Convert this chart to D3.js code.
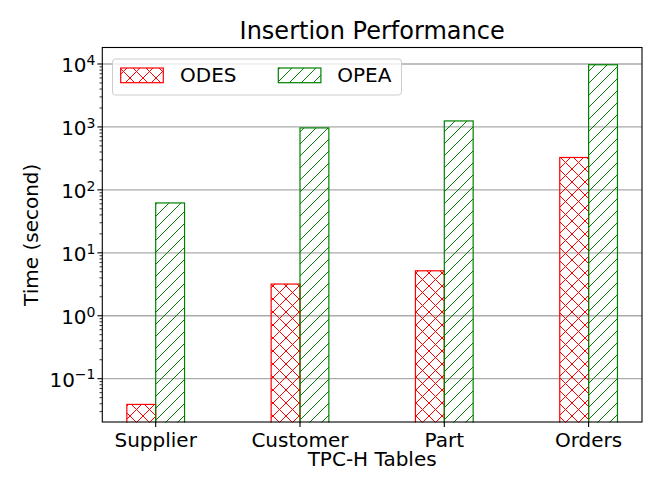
<!DOCTYPE html>
<html>
<head>
<meta charset="utf-8">
<script src="https://cdn.jsdelivr.net/npm/d3@7"></script>
<style>
  html, body { margin: 0; padding: 0; background: #fff; }
  svg { display: block; font-family: "DejaVu Sans", sans-serif; }
</style>
</head>
<body>
<svg id="chart" width="664" height="498"></svg>
<script>
// ---- data ----
const categories = ["Supplier", "Customer", "Part", "Orders"];
const seriesNames = ["ODES", "OPEA"];
const odesValues = [0.039, 3.19, 5.18, 327];
const opeaValues = [62, 965, 1245, 9730];
const yTickExponents = [-1, 0, 1, 2, 3, 4];
const titleText = "Insertion Performance";
const xLabelText = "TPC-H Tables";
const yLabelText = "Time (second)";

// ---- layout ----
const W = 664, H = 498;
const plot = { left: 102.3, right: 642, top: 47.5, bottom: 422 };
const barW = 0.2;
const svg = d3.select("#chart");

const x = d3.scaleLinear().domain([-0.37, categories.length - 1 + 0.37]).range([plot.left, plot.right]);
const y = d3.scaleLog().domain([Math.pow(10, -1.688), Math.pow(10, 4.262)]).range([plot.bottom, plot.top]);

// ---- hatch patterns ----
const defs = svg.append("defs");
function addPattern(id, color, cross, hs) {
  const p = defs.append("pattern").attr("id", id)
    .attr("patternUnits", "userSpaceOnUse")
    .attr("width", hs).attr("height", hs);
  let d = `M0,${hs} L${hs},0 M${-hs/2},${hs/2} L${hs/2},${-hs/2} M${hs/2},${hs*1.5} L${hs*1.5},${hs/2}`;
  if (cross) d += ` M0,0 L${hs},${hs} M${-hs/2},${hs/2} L${hs/2},${hs*1.5} M${hs/2},${-hs/2} L${hs*1.5},${hs/2}`;
  p.append("path").attr("d", d).attr("stroke", color).attr("stroke-width", 1).attr("fill", "none");
}
addPattern("hatchX", "red", true, 13);
addPattern("hatchS", "green", false, 12);

// ---- gridlines ----
svg.append("g").selectAll("line").data(yTickExponents).join("line")
  .attr("x1", plot.left).attr("x2", plot.right)
  .attr("y1", d => y(Math.pow(10, d))).attr("y2", d => y(Math.pow(10, d)))
  .attr("stroke", "#aaaaaa").attr("stroke-width", 1.3);

// ---- bars ----
const series = [
  { name: seriesNames[0], values: odesValues, off: -barW, fill: "url(#hatchX)", stroke: "red" },
  { name: seriesNames[1], values: opeaValues, off: 0, fill: "url(#hatchS)", stroke: "green" }
];
const yBase = plot.bottom + 2;
series.forEach(s => {
  svg.append("g").selectAll("rect").data(s.values).join("rect")
    .attr("x", (d, i) => x(i + s.off))
    .attr("width", x(barW) - x(0))
    .attr("y", d => y(d))
    .attr("height", d => yBase - y(d))
    .attr("fill", s.fill)
    .attr("stroke", s.stroke).attr("stroke-width", 1.2);
});

// clip anything below the axis
svg.append("rect").attr("x", 0).attr("y", plot.bottom + 0.6).attr("width", W).attr("height", 10).attr("fill", "#fff");

// ---- axes frame ----
svg.append("rect").attr("x", plot.left).attr("y", plot.top)
  .attr("width", plot.right - plot.left).attr("height", plot.bottom - plot.top)
  .attr("fill", "none").attr("stroke", "#000").attr("stroke-width", 1.1);

// ---- y ticks ----
const [lo, hi] = y.domain();
const minor = [];
for (let e = -2; e <= 4; e++) for (let m = 2; m <= 9; m++) {
  const v = m * Math.pow(10, e);
  if (v >= lo && v <= hi) minor.push(v);
}
svg.append("g").selectAll("line").data(minor).join("line")
  .attr("x1", plot.left - 2.8).attr("x2", plot.left)
  .attr("y1", d => y(d)).attr("y2", d => y(d))
  .attr("stroke", "#000").attr("stroke-width", 0.8);
svg.append("g").selectAll("line").data(yTickExponents).join("line")
  .attr("x1", plot.left - 4.9).attr("x2", plot.left)
  .attr("y1", d => y(Math.pow(10, d))).attr("y2", d => y(Math.pow(10, d)))
  .attr("stroke", "#000").attr("stroke-width", 1.1);
const yl = svg.append("g").selectAll("text").data(yTickExponents).join("text")
  .attr("x", 95.5).attr("y", d => y(Math.pow(10, d)) + 8.3)
  .attr("text-anchor", "end").attr("font-size", 20).attr("fill", "#000");
yl.append("tspan").text("10");
yl.append("tspan").attr("font-size", 14).attr("dy", -7.5)
  .text(d => String(d).replace("-", "\u2212"));

// ---- x ticks ----
svg.append("g").selectAll("line").data(categories).join("line")
  .attr("x1", (d, i) => x(i)).attr("x2", (d, i) => x(i))
  .attr("y1", plot.bottom).attr("y2", plot.bottom + 4.9)
  .attr("stroke", "#000").attr("stroke-width", 1.1);
svg.append("g").selectAll("text").data(categories).join("text")
  .attr("x", (d, i) => x(i)).attr("y", 446.7)
  .attr("text-anchor", "middle").attr("font-size", 20).attr("fill", "#000")
  .text(d => d);

// ---- labels ----
const cx = (plot.left + plot.right) / 2;
svg.append("text").attr("x", cx).attr("y", 39).attr("text-anchor", "middle")
  .attr("font-size", 24).text(titleText);
svg.append("text").attr("x", cx).attr("y", 466).attr("text-anchor", "middle")
  .attr("font-size", 20).text(xLabelText);
svg.append("text").attr("transform", `translate(38,${(plot.top + plot.bottom) / 2}) rotate(-90)`)
  .attr("text-anchor", "middle").attr("font-size", 20).text(yLabelText);

// ---- legend ----
const lg = svg.append("g");
lg.append("rect").attr("x", 112.5).attr("y", 59).attr("width", 289).attr("height", 36)
  .attr("rx", 3).attr("fill", "rgba(255,255,255,0.8)").attr("stroke", "#cccccc").attr("stroke-width", 1);
const legendItems = [
  { name: seriesNames[0], px: 120.7, tx: 180, fill: "url(#hatchX)", stroke: "red" },
  { name: seriesNames[1], px: 278.3, tx: 337.3, fill: "url(#hatchS)", stroke: "green" }
];
legendItems.forEach(it => {
  lg.append("rect").attr("x", it.px).attr("y", 68).attr("width", 42.6).attr("height", 14.7)
    .attr("fill", it.fill).attr("stroke", it.stroke).attr("stroke-width", 1.2);
  lg.append("text").attr("x", it.tx).attr("y", 82.3).attr("font-size", 20).text(it.name);
});
</script>
</body>
</html>
